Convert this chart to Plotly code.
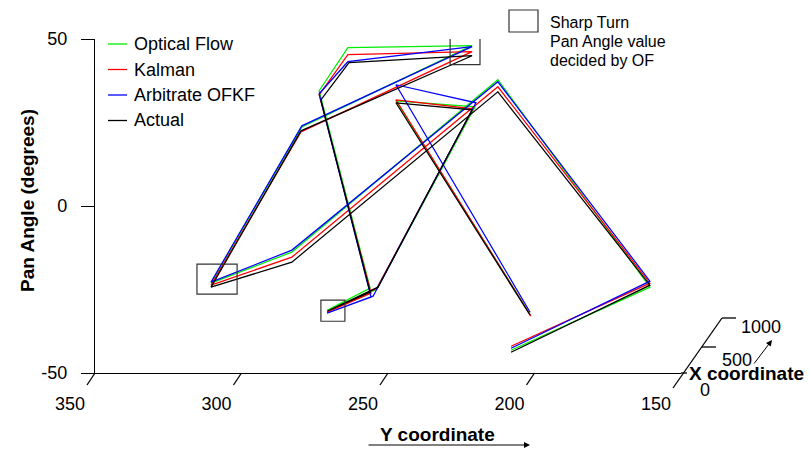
import plotly.graph_objects as go

FONT = "Liberation Sans, Arial, sans-serif"

# Path vertices (front-plane projection): Y coordinate and Pan Angle (degrees)
y_optical = [208.0, 160.6, 212.5, 282.8, 310.4, 279.4, 221.3, 263.7, 273.5, 256.1, 270.8, 253.8, 220.3, 247.3, 201.5]
pan_optical = [-43.2, -24.3, 37.8, -13.8, -23.1, 23.7, 48.0, 47.4, 34.5, -24.6, -31.2, -24.9, 29.7, 31.5, -32.4]

y_kalman = [208.0, 160.6, 212.5, 282.8, 310.4, 279.7, 221.3, 263.7, 273.5, 255.8, 270.8, 253.8, 221.0, 247.3, 201.2]
pan_kalman = [-42.0, -23.1, 35.7, -15.3, -23.7, 22.2, 46.2, 45.3, 33.3, -26.1, -31.8, -24.6, 29.1, 31.8, -33.0]

y_ofkf = [208.0, 160.6, 212.5, 282.8, 310.4, 279.4, 221.3, 263.7, 273.5, 255.8, 270.8, 255.1, 220.0, 247.3, 201.5]
pan_ofkf = [-42.6, -22.5, 37.2, -13.2, -22.8, 24.0, 47.7, 43.2, 33.6, -27.3, -32.1, -27.0, 30.9, 36.3, -31.8]

y_actual = [208.0, 160.6, 212.5, 282.8, 310.4, 279.7, 221.3, 263.3, 272.9, 256.1, 270.8, 253.4, 221.3, 247.3, 201.5]
pan_actual = [-43.8, -23.7, 34.2, -16.8, -24.3, 22.5, 45.0, 42.9, 31.8, -25.8, -31.5, -24.3, 28.8, 30.9, -32.7]

series_names = ["Optical Flow", "Kalman", "Arbitrate OFKF", "Actual"]
series_colors = ["#00ee00", "#ff0000", "#0000ff", "#000000"]

# Sharp-turn boxes: (y_min, y_max, pan_min, pan_max)
box_y0 = [218.6, 301.5, 264.7]
box_y1 = [228.8, 315.2, 272.9]
box_p0 = [42.3, -26.4, -34.5]
box_p1 = [50.4, -17.4, -28.2]

y_range = [350, 150]
pan_range = [-50, 50]
y_ticks = [350, 300, 250, 200, 150]
pan_ticks = [50, 0, -50]
depth_ticks = [0, 500, 1000]

# layout geometry (pixels)
W, H = 810, 452
ML, MR, MT, MB = 95, 129, 39, 79
PW, PH = W - ML - MR, H - MT - MB


def px(xp):
    return (xp - ML) / PW


def py(yp):
    return (H - MB - yp) / PH


def yfrac(v):
    return (y_range[0] - v) / (y_range[0] - y_range[1])


fig = go.Figure()
for ys, ps, name, col in zip([y_optical, y_kalman, y_ofkf, y_actual],
                              [pan_optical, pan_kalman, pan_ofkf, pan_actual],
                              series_names, series_colors):
    fig.add_trace(go.Scatter(x=ys, y=ps, mode="lines", name=name, showlegend=False,
                             line=dict(color=col, width=1.25)))

shapes = []
for a, b, c, d in zip(box_y0, box_y1, box_p0, box_p1):
    shapes.append(dict(type="rect", xref="x", yref="y", x0=a, x1=b, y0=c, y1=d,
                       line=dict(color="#333333", width=1.2)))

# slanted ticks on the Y coordinate axis
for t in y_ticks[:-1]:
    shapes.append(dict(type="line", xref="paper", yref="paper", xsizemode="pixel", ysizemode="pixel",
                       xanchor=yfrac(t), yanchor=0, x0=0, x1=-8, y0=0, y1=-12,
                       line=dict(color="black", width=1.3)))

# depth (X coordinate) axis
shapes.append(dict(type="line", xref="paper", yref="paper", xsizemode="pixel", ysizemode="pixel",
                   xanchor=1, yanchor=0, x0=-8, x1=41, y0=-15, y1=55,
                   line=dict(color="black", width=1.3)))
depth_dx = [0, 21, 41]
depth_dy = [0, 26, 55]
depth_len = [6, 14, 14]
for dx, dy, ln in zip(depth_dx, depth_dy, depth_len):
    shapes.append(dict(type="line", xref="paper", yref="paper", xsizemode="pixel", ysizemode="pixel",
                       xanchor=1, yanchor=0, x0=dx, x1=dx + ln, y0=dy, y1=dy,
                       line=dict(color="black", width=1.3)))

# key box for annotation
shapes.append(dict(type="rect", xref="paper", yref="paper",
                   x0=px(509), x1=px(538), y0=py(32), y1=py(10),
                   line=dict(color="#333333", width=1.2)))

annotations = []

# manual legend
legend_y = [44, 69.5, 95, 120.5]
for name, col, ly in zip(series_names, series_colors, legend_y):
    shapes.append(dict(type="line", xref="paper", yref="paper",
                       x0=px(108), x1=px(127), y0=py(ly), y1=py(ly),
                       line=dict(color=col, width=1.3)))
    annotations.append(dict(x=px(132), y=py(ly), xref="paper", yref="paper", text=name,
                            showarrow=False, xanchor="left", yanchor="middle",
                            font=dict(size=18, family=FONT, color="black")))

for lbl, dx, dy in zip([str(v) for v in depth_ticks], [24, 56, 80], [-17, 13, 46]):
    annotations.append(dict(x=1, y=0, xref="paper", yref="paper", text=lbl, showarrow=False,
                            xanchor="center", yanchor="middle",
                            xshift=dx, yshift=dy, font=dict(size=18, family=FONT, color="black")))

annotations.append(dict(x=px(747), y=py(373), xref="paper", yref="paper", text="<b>X coordinate</b>",
                        showarrow=False, xanchor="center", yanchor="middle",
                        font=dict(size=19, family=FONT, color="black")))
annotations.append(dict(x=px(772), y=py(340), xref="paper", yref="paper",
                        text="", showarrow=True, ax=-19, ay=25, arrowhead=2, arrowsize=1.2,
                        arrowwidth=1, arrowcolor="black"))
annotations.append(dict(x=px(437), y=py(434), xref="paper", yref="paper",
                        text="<b>Y coordinate</b>", showarrow=False, xanchor="center", yanchor="middle",
                        font=dict(size=19, family=FONT, color="black")))
annotations.append(dict(x=px(530), y=py(445), xref="paper", yref="paper",
                        text="", showarrow=True, ax=-163, ay=0, arrowhead=2, arrowsize=1.2,
                        arrowwidth=1, arrowcolor="black"))
annotations.append(dict(x=px(27), y=py(201), xref="paper", yref="paper",
                        text="<b>Pan Angle (degrees)</b>", showarrow=False, textangle=-90,
                        xanchor="center", yanchor="middle",
                        font=dict(size=19, family=FONT, color="black")))
for line, ly in zip(["Sharp Turn", "Pan Angle value", "decided by OF"], [22, 41, 60]):
    annotations.append(dict(x=px(548), y=py(ly), xref="paper", yref="paper",
                            text=line, showarrow=False, xanchor="left", yanchor="middle",
                            font=dict(size=16, family=FONT, color="black")))

fig.update_layout(
    width=W, height=H, autosize=False,
    margin=dict(l=ML, r=MR, t=MT, b=MB, autoexpand=False),
    paper_bgcolor="white", plot_bgcolor="white",
    font=dict(family=FONT, size=18, color="black"),
    showlegend=False,
    xaxis=dict(range=y_range, showline=True, linecolor="black", linewidth=1.3,
               ticks="", tickvals=y_ticks, ticktext=[str(v) for v in y_ticks],
               showgrid=False, zeroline=False, ticklabelshift=25, ticklabelstandoff=14,
               automargin=False, tickfont=dict(size=18, family=FONT)),
    yaxis=dict(range=pan_range, showline=True, linecolor="black", linewidth=1.3,
               ticks="outside", ticklen=13, tickwidth=1.3, tickcolor="black",
               tickvals=pan_ticks, ticktext=["50", "0", "-50"],
               showgrid=False, zeroline=False, ticklabelstandoff=10, automargin=False,
               tickfont=dict(size=18, family=FONT)),
    shapes=shapes, annotations=annotations,
)

fig.write_html("out.html", config={"displayModeBar": False},
               post_script="document.body.style.margin='0';document.body.style.padding='0';")
